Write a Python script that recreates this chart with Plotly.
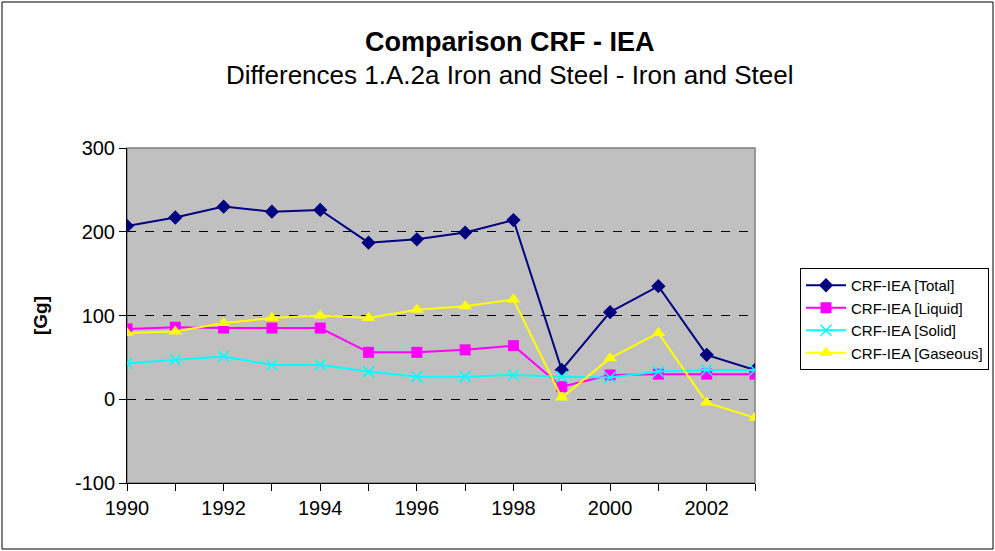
import plotly.graph_objects as go

years = list(range(1990, 2004))
total = [207, 217, 230, 224, 226, 187, 191, 199, 214, 35, 104, 135, 53, 35]
liquid = [84, 86, 85, 85, 85, 56, 56, 59, 64, 15, 29, 30, 30, 30]
solid = [43, 47, 51, 41, 41, 33, 27, 27, 29, 27, 26, 33, 35, 35]
gaseous = [79, 81, 91, 97, 100, 97, 107, 111, 119, 2, 49, 79, -4, -22]

names = ["CRF-IEA [Total]", "CRF-IEA [Liquid]", "CRF-IEA [Solid]", "CRF-IEA [Gaseous]"]
colors = ["#000080", "#FF00FF", "#00FFFF", "#FFFF00"]
symbols = ["diamond", "square", "x-thin-open", "triangle-up"]
sizes = [11, 11, 11, 12]
yticks = [-100, 0, 100, 200, 300]
ytick_text = ["-100", "0", "100", "200", "300"]

L, R, T, B = 127, 755, 148, 483
W, H = 995, 551
pw, ph = R - L, B - T

def px(x):
    return (x - L) / pw

def py(y):
    return (B - y) / ph

fig = go.Figure()
for name, vals, c, s, sz in zip(names, [total, liquid, solid, gaseous], colors, symbols, sizes):
    marker = dict(symbol=s, size=sz, color=c)
    if s == "x-thin-open":
        marker["line"] = dict(color=c, width=1.5)
    fig.add_trace(go.Scatter(x=years, y=vals, name=name, mode="lines+markers",
                             line=dict(color=c, width=2), marker=marker))

fig.update_layout(
    width=W, height=H, autosize=False,
    margin=dict(l=L, r=W - R, t=T, b=H - B, autoexpand=False),
    paper_bgcolor="white", plot_bgcolor="#C0C0C0",
    font=dict(family="Liberation Sans, Arial, sans-serif", color="black"),
    showlegend=True,
    legend=dict(xref="container", yref="container", x=800 / W, y=1 - 268 / H,
                xanchor="left", yanchor="top",
                bordercolor="black", borderwidth=1, bgcolor="white",
                font=dict(size=15), tracegroupgap=0, itemwidth=40),
    xaxis=dict(range=[1990, 2003], tickvals=list(range(1990, 2004, 2)),
               ticks="outside", ticklen=7, tickcolor="black",
               minor=dict(tickvals=list(range(1991, 2004, 2)), ticks="outside", ticklen=7, tickcolor="black"),
               showgrid=False, zeroline=False, showline=True, linecolor="black", linewidth=1,
               tickfont=dict(size=20), automargin=False),
    yaxis=dict(range=[-100, 300], tickvals=yticks, ticktext=ytick_text, ticks="outside", ticklen=7, tickcolor="black",
               showgrid=True, gridcolor="black", griddash="dash", gridwidth=1,
               zeroline=False, showline=True, linecolor="black", linewidth=1,
               tickfont=dict(size=20), automargin=False,
               title=dict(text="<b>[Gg]</b>", font=dict(size=19), standoff=22)),
    annotations=[
        dict(text="<b>Comparison CRF - IEA</b>", xref="paper", yref="paper",
             x=px(510), y=py(42), xanchor="center", yanchor="middle", showarrow=False, font=dict(size=27)),
        dict(text="Differences 1.A.2a Iron and Steel - Iron and Steel", xref="paper", yref="paper",
             x=px(510), y=py(75), xanchor="center", yanchor="middle", showarrow=False, font=dict(size=26)),
    ],
    shapes=[
        dict(type="rect", xref="paper", yref="paper", x0=0, x1=1, y0=0, y1=1,
             line=dict(color="#808080", width=1.5), layer="below"),
        dict(type="rect", xref="paper", yref="paper", x0=px(2), x1=px(993), y0=py(2), y1=py(549),
             line=dict(color="black", width=1)),
    ],
)

post = "document.body.style.margin='0';document.body.style.overflow='hidden';"
fig.write_html("out.html", post_script=post,
               config={"responsive": False, "displayModeBar": False})
